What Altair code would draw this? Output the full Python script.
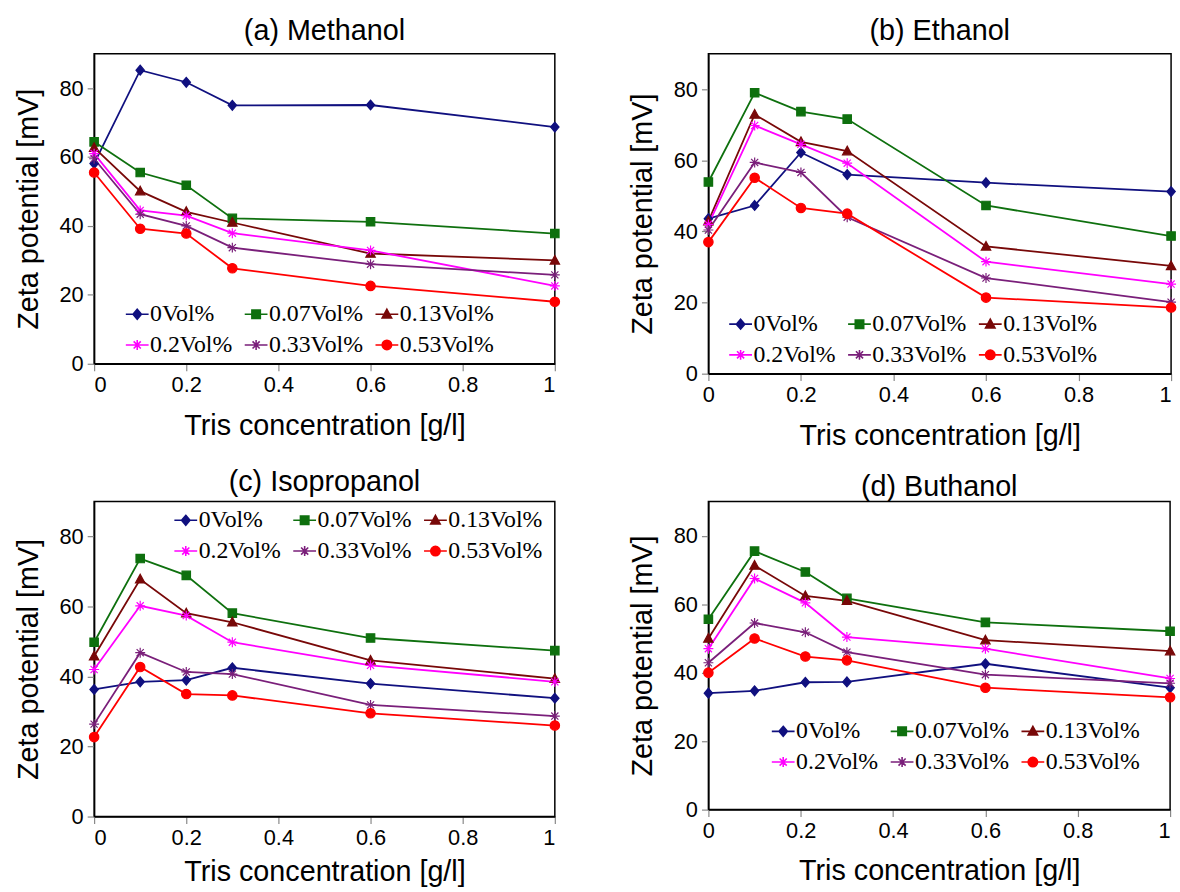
import altair as alt
import pandas as pd

SERIES = ["0Vol%", "0.07Vol%", "0.13Vol%", "0.2Vol%", "0.33Vol%", "0.53Vol%"]
COLORS = ["#10107f", "#0e700e", "#780808", "#ff00ff", "#7a1f7a", "#ff0000"]
# legend entries are laid out column by column: this order gives rows 0/0.07/0.13 and 0.2/0.33/0.53
LEGEND_ORDER = ["0Vol%", "0.2Vol%", "0.07Vol%", "0.33Vol%", "0.13Vol%", "0.53Vol%"]

X_ABC = [0, 0.1, 0.2, 0.3, 0.6, 1]
X_D = [0, 0.1, 0.21, 0.3, 0.6, 1]

X_TICKS = [0, 0.2, 0.4, 0.6, 0.8, 1]
Y_TICKS = [0, 20, 40, 60, 80]

# (a) Methanol
methanol_0 = [58.1, 85.2, 81.7, 75.0, 75.1, 68.7]
methanol_007 = [64.4, 55.5, 51.8, 42.2, 41.2, 37.8]
methanol_013 = [62.7, 50.1, 44.1, 41.0, 32.0, 30.0]
methanol_02 = [61.0, 44.5, 43.0, 37.9, 32.9, 22.6]
methanol_033 = [59.5, 43.4, 40.0, 33.7, 28.9, 25.8]
methanol_053 = [55.5, 39.2, 37.8, 27.7, 22.6, 18.0]

# (b) Ethanol
ethanol_0 = [43.6, 47.3, 62.2, 56.0, 53.7, 51.2]
ethanol_007 = [53.9, 79.0, 73.7, 71.6, 47.3, 38.7]
ethanol_013 = [42.9, 72.9, 65.2, 62.6, 35.8, 30.3]
ethanol_02 = [42.0, 69.8, 64.5, 59.2, 31.5, 25.2]
ethanol_033 = [40.4, 59.4, 56.6, 44.0, 26.9, 20.1]
ethanol_053 = [37.0, 55.1, 46.6, 45.0, 21.4, 18.6]

# (c) Isopropanol
isopropanol_0 = [36.3, 38.5, 39.0, 42.5, 38.0, 33.8]
isopropanol_007 = [49.8, 73.7, 68.9, 58.1, 51.0, 47.4]
isopropanol_013 = [45.8, 67.8, 58.1, 55.5, 44.6, 39.4]
isopropanol_02 = [42.0, 60.2, 57.4, 49.8, 43.2, 38.5]
isopropanol_033 = [26.4, 46.8, 41.3, 40.7, 31.9, 28.7]
isopropanol_053 = [22.7, 42.7, 35.0, 34.6, 29.5, 26.0]

# (d) Buthanol
buthanol_0 = [34.0, 34.7, 37.2, 37.3, 42.6, 35.6]
buthanol_007 = [55.6, 75.5, 69.4, 61.7, 54.7, 52.1]
buthanol_013 = [50.0, 71.3, 62.4, 61.0, 49.5, 46.3]
buthanol_02 = [47.0, 67.5, 60.4, 50.4, 47.0, 38.3]
buthanol_033 = [42.9, 54.5, 51.8, 46.0, 39.4, 36.9]
buthanol_053 = [40.0, 50.0, 44.7, 43.6, 35.6, 32.8]

DIAMOND = "M0,-1L0.85,0L0,1L-0.85,0Z"
SQUARE = "M-0.85,-0.85L0.85,-0.85L0.85,0.85L-0.85,0.85Z"
TRIANGLE = "M0,-1L0.95,0.75L-0.95,0.75Z"
ASTERISK = "M0,-1L0,1M-1,0L1,0M-0.72,-0.72L0.72,0.72M-0.72,0.72L0.72,-0.72"
CIRCLE = "M-0.95,0A0.95,0.95,0,1,0,0.95,0A0.95,0.95,0,1,0,-0.95,0Z"
MARKERS = [DIAMOND, SQUARE, TRIANGLE, ASTERISK, ASTERISK, CIRCLE]
LINE = "M-2.3,0L2.3,0"
LEG_MARKERS = [LINE + m for m in MARKERS]


def make_df(xs, series_values):
    rows = []
    for name, vals in zip(SERIES, series_values):
        for xv, yv in zip(xs, vals):
            rows.append({"x": xv, "y": yv, "series": name})
    return pd.DataFrame(rows)


def panel(title, xs, series_values, width, height, lx, ly, toff, right_edge, xtp):
    df = make_df(xs, series_values)
    base = alt.Chart(df)
    xaxis_kw = dict(values=X_TICKS, format="~g", title="Tris concentration [g/l]", titlePadding=xtp)
    if right_edge:
        xaxis_kw["labelAlign"] = alt.ExprRef("datum.value == 1 ? 'right' : 'center'")
    x = alt.X("x:Q", scale=alt.Scale(domain=[0, 1], nice=False, zero=False),
              axis=alt.Axis(**xaxis_kw))
    y = alt.Y("y:Q", scale=alt.Scale(domain=[0, 90], nice=False),
              axis=alt.Axis(values=Y_TICKS, title="Zeta potential [mV]"))
    cscale = alt.Scale(domain=SERIES, range=COLORS)
    layers = [base.mark_line(strokeWidth=1.8).encode(
        x=x, y=y, color=alt.Color("series:N", scale=cscale, legend=None))]
    for name, col, shp in zip(SERIES, COLORS, MARKERS):
        layers.append(
            base.transform_filter(alt.datum.series == name).mark_point(
                filled=True, shape=shp, size=100, fill=col, stroke=col,
                strokeWidth=1.2, opacity=1).encode(x=x, y=y))
    leg_def = alt.Legend(
        title=None, orient="none", legendX=lx, legendY=ly, columns=3, values=LEGEND_ORDER,
        labelFont="Liberation Serif", labelFontSize=24, labelColor="black",
        symbolSize=100, symbolStrokeWidth=1.6, symbolOpacity=1,
        labelOffset=1, rowPadding=7, columnPadding=9, padding=0)
    layers.append(
        base.transform_filter("datum.y < -1000").mark_point(
            filled=True, size=100, opacity=1, strokeWidth=1.6).encode(
            fill=alt.Fill("series:N", scale=cscale, legend=leg_def),
            stroke=alt.Stroke("series:N", scale=cscale, legend=leg_def),
            shape=alt.Shape("series:N", scale=alt.Scale(domain=SERIES, range=LEG_MARKERS),
                            legend=leg_def)))
    return alt.layer(*layers).resolve_scale(
        shape="independent", fill="independent", stroke="independent"
    ).properties(
        width=width, height=height,
        title=alt.TitleParams(title, font="Liberation Sans", fontSize=29, fontWeight="normal",
                              color="black", frame="group", anchor="middle", offset=toff))


pa = panel("(a) Methanol", X_ABC,
           [methanol_0, methanol_007, methanol_013, methanol_02, methanol_033, methanol_053],
           465, 313, 31.5, 251, 8, False, 16)
pb = panel("(b) Ethanol", X_ABC,
           [ethanol_0, ethanol_007, ethanol_013, ethanol_02, ethanol_033, ethanol_053],
           467, 323, 20.5, 261, 8, True, 16)
pc = panel("(c) Isopropanol", X_ABC,
           [isopropanol_0, isopropanol_007, isopropanol_013, isopropanol_02, isopropanol_033, isopropanol_053],
           465, 318, 80.5, 7, 5, False, 10)
pd_ = panel("(d) Buthanol", X_D,
            [buthanol_0, buthanol_007, buthanol_013, buthanol_02, buthanol_033, buthanol_053],
            466, 311, 63.5, 220, 0, True, 16)

chart = alt.concat(pa, pb, pc, pd_, columns=2, spacing={"row": 129, "column": 153},
                   bounds="flush", align="all").properties(
    padding={"left": 13, "top": 12, "right": 0, "bottom": 0},
    background="white",
).configure_view(
    stroke="black", strokeWidth=1.5
).configure_axis(
    labelFont="Liberation Sans", labelFontSize=22, labelColor="black", labelPadding=4,
    titleFont="Liberation Sans", titleFontSize=29, titleFontWeight="normal", titleColor="black",
    tickSize=7, tickColor="#888888", tickWidth=1.2, domainColor="black", domainWidth=1.5,
    grid=False
).configure_axisY(titlePadding=16)

chart.save("out.html", embed_options={"renderer": "svg", "actions": False})
